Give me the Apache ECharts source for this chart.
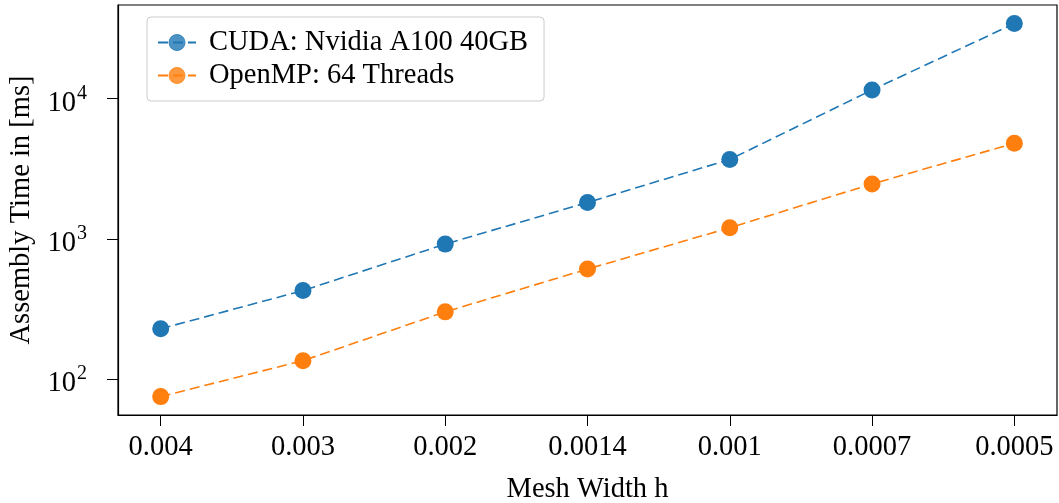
<!DOCTYPE html>
<html>
<head>
<meta charset="utf-8">
<script src="https://cdn.jsdelivr.net/npm/echarts@6/dist/echarts.min.js"></script>
<style>
html,body{margin:0;padding:0;background:#fff;}
#chart{width:1059px;height:503px;}
</style>
</head>
<body>
<div id="chart"></div>
<script>
// ---- data ----
const meshWidths = ['0.004', '0.003', '0.002', '0.0014', '0.001', '0.0007', '0.0005'];
const cudaTimes = [228, 427, 916, 1815, 3680, 11530, 34300];
const openmpTimes = [74.8, 135, 301, 608, 1199, 2461, 4800];
const seriesNames = ['CUDA: Nvidia A100 40GB', 'OpenMP: 64 Threads'];
const yTickValues = [100, 1000, 10000];
const xTickIndex = [0, 1, 2, 3, 4, 5, 6];

const FONT = "'Liberation Serif', 'DejaVu Serif', serif";
const FS = 28.5;
const BLUE = '#1f77b4';
const ORANGE = '#ff7f0e';

function pairs(vals) { return vals.map((v, i) => [i, v]); }

const chart = echarts.init(document.getElementById('chart'), null, { renderer: 'canvas' });
chart.setOption({
  animation: false,
  backgroundColor: '#fff',
  textStyle: { fontFamily: FONT, color: '#000' },
  grid: {
    left: 118, top: 5, width: 939, height: 410,
    outerBoundsMode: 'none', containLabel: false,
    show: true, borderColor: '#000', borderWidth: 1.2, backgroundColor: 'transparent'
  },
  legend: {
    show: true,
    orient: 'vertical',
    left: 147, top: 17,
    padding: [11, 16, 11, 10],
    itemWidth: 38, itemHeight: 20, itemGap: 4,
    borderColor: '#cccccc', borderWidth: 1, borderRadius: 4,
    backgroundColor: 'rgba(255,255,255,0.8)',
    textStyle: { fontFamily: FONT, fontSize: FS, color: '#000', padding: [0, 0, 0, 8] },
    data: [
      { name: seriesNames[0], itemStyle: { color: BLUE, opacity: 0.8, borderColor: BLUE, borderWidth: 1 } },
      { name: seriesNames[1], itemStyle: { color: ORANGE, opacity: 0.8, borderColor: ORANGE, borderWidth: 1 } }
    ]
  },
  xAxis: {
    type: 'value', min: -0.3, max: 6.3,
    name: 'Mesh Width h', nameLocation: 'middle', nameGap: 60, nameMoveOverlap: false,
    nameTextStyle: { fontFamily: FONT, fontSize: FS, color: '#000' },
    axisLine: { show: true, onZero: false, lineStyle: { color: '#000', width: 1.2 } },
    axisTick: { show: true, length: 11, inside: false, customValues: xTickIndex, lineStyle: { color: '#000', width: 1 } },
    axisLabel: {
      customValues: xTickIndex, margin: 18,
      fontFamily: FONT, fontSize: FS, color: '#000',
      formatter: v => meshWidths[Math.round(v)]
    },
    splitLine: { show: false }
  },
  yAxis: {
    type: 'log', logBase: 10, min: 55.3, max: 46560,
    name: 'Assembly Time in [ms]', nameLocation: 'middle', nameGap: 82, nameMoveOverlap: false,
    nameTextStyle: { fontFamily: FONT, fontSize: FS, color: '#000' },
    axisLine: { show: true, onZero: false, lineStyle: { color: '#000', width: 1.2 } },
    axisTick: { show: true, length: 11, customValues: yTickValues, lineStyle: { color: '#000', width: 1 } },
    minorTick: { show: false },
    splitLine: { show: false },
    axisLabel: {
      customValues: yTickValues, margin: 31,
      fontFamily: FONT, fontSize: FS, color: '#000',
      formatter: v => '{b|10}{s|' + Math.round(Math.log10(v)) + '}',
      rich: {
        b: { fontFamily: FONT, fontSize: FS, color: '#000', padding: [10, 0, 0, 0] },
        s: { fontFamily: FONT, fontSize: 20, color: '#000', padding: [0, 0, 10, 1] }
      }
    }
  },
  series: [
    {
      name: seriesNames[0], type: 'line', data: pairs(cudaTimes),
      symbol: 'circle', symbolSize: 17,
      itemStyle: { color: BLUE },
      lineStyle: { color: BLUE, width: 1.6, type: [10, 5] }
    },
    {
      name: seriesNames[1], type: 'line', data: pairs(openmpTimes),
      symbol: 'circle', symbolSize: 17,
      itemStyle: { color: ORANGE },
      lineStyle: { color: ORANGE, width: 1.6, type: [10, 5] }
    }
  ]
});
</script>
</body>
</html>
